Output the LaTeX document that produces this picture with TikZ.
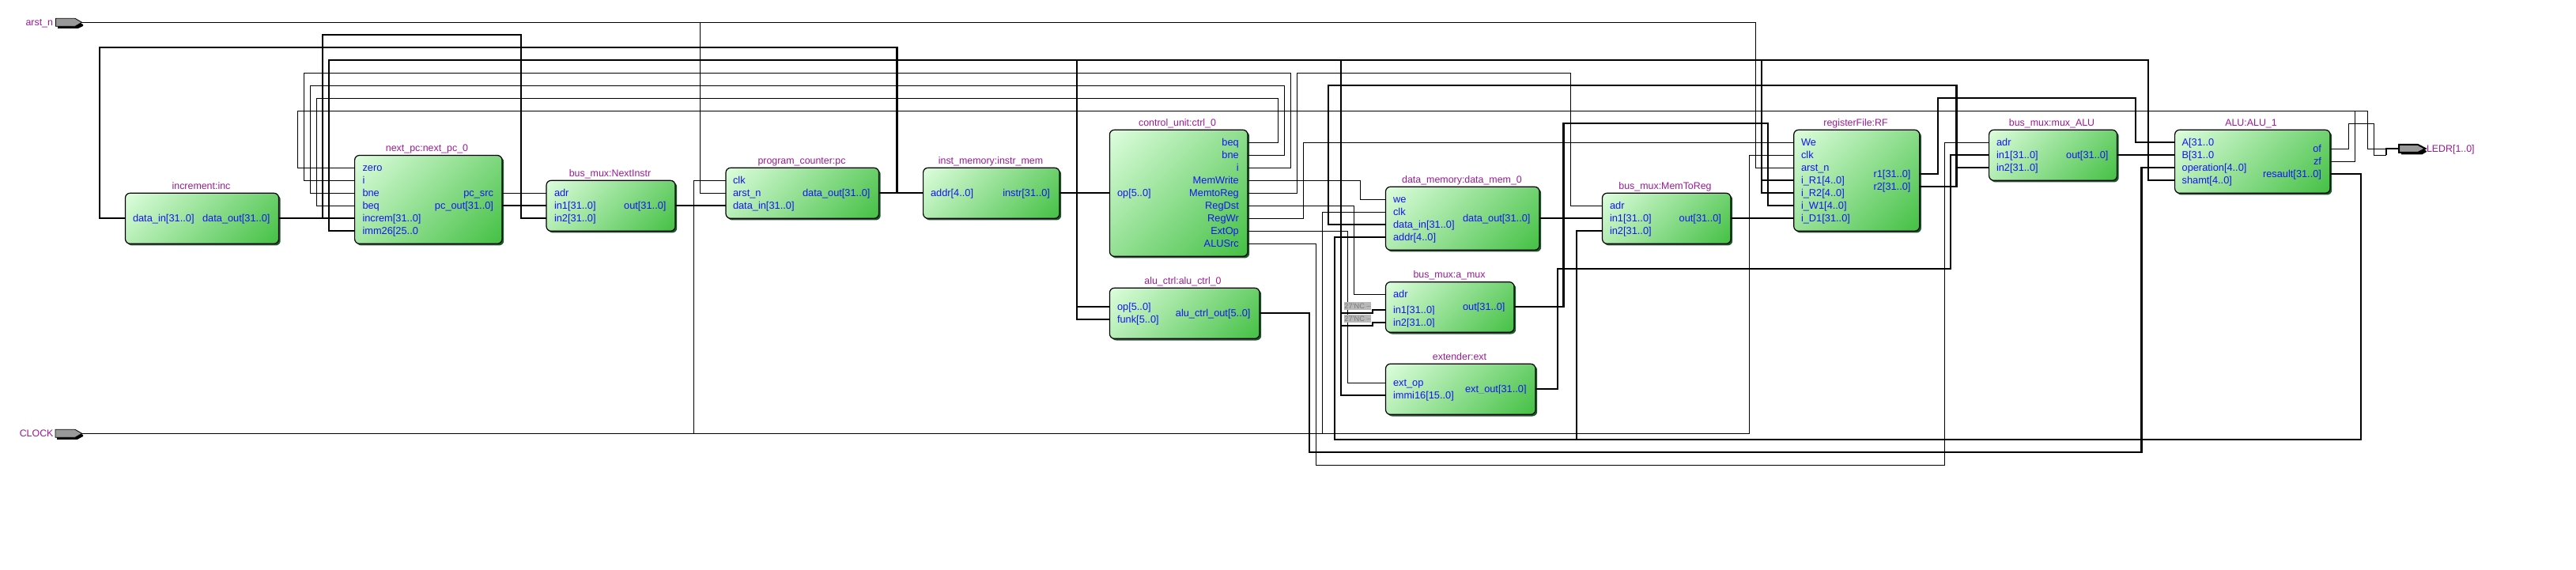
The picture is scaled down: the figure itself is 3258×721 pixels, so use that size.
\documentclass[tikz,border=0pt]{standalone}
\usepackage{fontspec}
\setmainfont{Liberation Sans}
\definecolor{lightg}{HTML}{DDFDDD}
\definecolor{darkg}{HTML}{44C044}
\definecolor{shadg}{HTML}{1C5A2C}
\definecolor{portc}{HTML}{1414F5}
\definecolor{titlec}{HTML}{9A1A94}
\definecolor{pinc}{HTML}{999999}
\definecolor{tagc}{HTML}{B8B8B8}
\definecolor{tagt}{HTML}{7A7A7A}
\pgfdeclareverticalshading{blockgrad}{100bp}{color(0bp)=(darkg); color(14.6bp)=(darkg); color(85.4bp)=(lightg); color(100bp)=(lightg)}
\tikzset{
  blockbox/.style={draw=black,line width=0.6pt,rounded corners=3pt,inner sep=0pt,outer sep=0pt,
    shade,shading=blockgrad,shading angle=45},
  portlabel/.style={inner sep=0pt,outer sep=0pt,text=portc,font=\fontsize{6.4}{7}\selectfont,text height=4.6pt,text depth=0pt},
  blocktitle/.style={inner sep=0pt,outer sep=0pt,text=titlec,font=\fontsize{6.2}{7}\selectfont,text height=4.6pt,text depth=0pt},
  sig/.style={draw=black,line width=0.55pt,line join=miter},
  bus/.style={draw=black,line width=1.05pt,line join=miter},
  nctag/.style={fill=tagc,text=tagt,inner sep=0pt,outer sep=0pt,minimum width=15pt,minimum height=5pt,font=\fontsize{4.6}{5}\selectfont},
}
\newcommand{\blk}[7]{% name x1 y1 x2 y2 title titlex
  \fill[shadg,rounded corners=3pt] ({#2+2.2},{#3+2.2}) rectangle ({#4+2.2},{#5+2.2});
  \node[blockbox,minimum width={(#4-#2)*0.5pt},minimum height={(#5-#3)*0.5pt}] (#1) at ({(#2+#4)/2},{(#3+#5)/2}) {};
  \node[blocktitle] (#1title) at (#7,{#3-9.6}) {#6};
}
\newcommand{\pl}[4]{% name x y text : left aligned, lower edge cut just under the baseline
  \begin{scope}\clip ({#2-2},{#3-9}) rectangle ({#2+120},{#3+5.9});
  \node[portlabel,anchor=west] (#1) at (#2,#3) {#4};\end{scope}}
\newcommand{\pr}[4]{% name x y text : right aligned
  \begin{scope}\clip ({#2-120},{#3-9}) rectangle ({#2+2},{#3+5.9});
  \node[portlabel,anchor=east] (#1) at (#2,#3) {#4};\end{scope}}
\begin{document}
\begin{tikzpicture}[x=0.5pt,y=-0.5pt]
\useasboundingbox (0,0) rectangle (3258,721);
\fill[white] (0,0) rectangle (3258,721);

% blocks and their ports
\blk{inc}{158.5}{244.3}{352.5}{308.3}{increment:inc}{254.5}
\pl{incin}{168}{276.3}{data\_in[31..0]}
\pr{incout}{341.5}{276.3}{data\_out[31..0]}

\blk{nx}{448.6}{196.5}{635}{308.3}{next\_pc:next\_pc\_0}{540}
\pl{nxzero}{458.5}{212.3}{zero}
\pl{nxi}{458.5}{228.3}{i}
\pl{nxbne}{458.5}{244.3}{bne}
\pl{nxbeq}{458.5}{260.3}{beq}
\pl{nxinc}{458.5}{276.3}{increm[31..0]}
\pl{nximm}{458.5}{292.3}{imm26[25..0}
\pr{nxsrc}{624}{244.3}{pc\_src}
\pr{nxout}{624}{260.3}{pc\_out[31..0]}

\blk{nim}{691}{228.3}{854}{292.3}{bus\_mux:NextInstr}{771.5}
\pl{nimadr}{701}{244.3}{adr}
\pl{nimone}{701}{260.3}{in1[31..0]}
\pl{nimtwo}{701}{276.3}{in2[31..0]}
\pr{nimout}{842.5}{260.3}{out[31..0]}

\blk{pc}{918}{212.3}{1111.5}{276.3}{program\_counter:pc}{1014}
\pl{pcclk}{927}{228.3}{clk}
\pl{pcarst}{927}{244.3}{arst\_n}
\pl{pcin}{927}{260.3}{data\_in[31..0]}
\pr{pcout}{1100.5}{244.3}{data\_out[31..0]}

\blk{im}{1167.6}{212.3}{1340}{276.3}{inst\_memory:instr\_mem}{1253}
\pl{imaddr}{1177}{244.3}{addr[4..0]}
\pr{imout}{1328}{244.3}{instr[31..0]}

\blk{ctl}{1403.4}{164.3}{1578}{324.3}{control\_unit:ctrl\_0}{1489}
\pl{ctlop}{1413}{244.3}{op[5..0]}
\pr{ctlbeq}{1566.8}{180.3}{beq}
\pr{ctlbne}{1566.8}{196.3}{bne}
\pr{ctli}{1566.8}{212.3}{i}
\pr{ctlmw}{1566.8}{228.3}{MemWrite}
\pr{ctlmr}{1566.8}{244.3}{MemtoReg}
\pr{ctlrd}{1566.8}{260.3}{RegDst}
\pr{ctlrw}{1566.8}{276.3}{RegWr}
\pr{ctlext}{1566.8}{292.3}{ExtOp}
\pr{ctlsrc}{1566.8}{308.3}{ALUSrc}

\blk{ac}{1403.4}{364.3}{1593}{428.3}{alu\_ctrl:alu\_ctrl\_0}{1496}
\pl{acop}{1413}{388.3}{op[5..0]}
\pl{acfunk}{1413}{404.3}{funk[5..0]}
\pr{acout}{1581.5}{396.3}{alu\_ctrl\_out[5..0]}

\blk{dm}{1752.5}{236.3}{1947}{316.3}{data\_memory:data\_mem\_0}{1849}
\pl{dmwe}{1762}{252.3}{we}
\pl{dmclk}{1762}{268.3}{clk}
\pl{dmin}{1762}{284.3}{data\_in[31..0]}
\pl{dmaddr}{1762}{300.3}{addr[4..0]}
\pr{dmout}{1935.5}{276.3}{data\_out[31..0]}

\blk{am}{1752.5}{356.7}{1915}{420.3}{bus\_mux:a\_mux}{1833}
\pl{amadr}{1762}{372.3}{adr}
\pl{amone}{1762}{391.9}{in1[31..0]}
\pl{amtwo}{1762}{408}{in2[31..0]}
\pr{amout}{1903.4}{387.9}{out[31..0]}

\blk{ex}{1752.5}{460.3}{1942}{524.3}{extender:ext}{1846}
\pl{exop}{1762}{484.3}{ext\_op}
\pl{eximm}{1762}{500.3}{immi16[15..0]}
\pr{exout}{1930.6}{492}{ext\_out[31..0]}

\blk{mr}{2026.5}{244.3}{2189}{308.3}{bus\_mux:MemToReg}{2106}
\pl{mradr}{2036}{260.3}{adr}
\pl{mrone}{2036}{276.3}{in1[31..0]}
\pl{mrtwo}{2036}{292.3}{in2[31..0]}
\pr{mrout}{2177}{276.3}{out[31..0]}

\blk{rf}{2268.7}{164.3}{2427.7}{292.3}{registerFile:RF}{2347}
\pl{rfwe}{2278}{180.3}{We}
\pl{rfclk}{2278}{196.3}{clk}
\pl{rfarst}{2278}{212.3}{arst\_n}
\pl{rfra}{2278}{228.3}{i\_R1[4..0]}
\pl{rfrb}{2278}{244.3}{i\_R2[4..0]}
\pl{rfw}{2278}{260.3}{i\_W1[4..0]}
\pl{rfd}{2278}{276.3}{i\_D1[31..0]}
\pr{rfone}{2416.5}{220.3}{r1[31..0]}
\pr{rftwo}{2416.5}{236.3}{r2[31..0]}

\blk{ma}{2515.6}{164.3}{2677.5}{228.3}{bus\_mux:mux\_ALU}{2595}
\pl{maadr}{2525}{180.3}{adr}
\pl{maone}{2525}{196.3}{in1[31..0]}
\pl{matwo}{2525}{212.3}{in2[31..0]}
\pr{maout}{2666.5}{196.3}{out[31..0]}

\blk{alu}{2750.6}{164.3}{2947}{244.3}{ALU:ALU\_1}{2847}
\begin{scope}\clip (2755,165) rectangle (2799.7,205);
\node[portlabel,anchor=west] (alua) at (2759.6,180.3) {A[31..0]};
\node[portlabel,anchor=west] (alub) at (2759.6,196.3) {B[31..0]};
\end{scope}
\pl{aluop}{2759.6}{212.3}{operation[4..0]}
\pl{alush}{2759.6}{228.3}{shamt[4..0]}
\pr{aluof}{2936}{188.3}{of}
\pr{aluzf}{2936}{204.3}{zf}
\pr{alures}{2936}{220.3}{resault[31..0]}

% top-level pins
\fill[black] (73,25.5) -- (96,25.5) -- (105,31) -- (105,33) -- (99,35.8) -- (73,35.8) -- cycle;
\filldraw[fill=pinc,draw=black,line width=0.4pt] (70.5,23.3) -- (95,23.3) -- (103.6,28.3) -- (95,33.3) -- (70.5,33.3) -- cycle;
\coordinate (arstpin) at (103.6,28.3);
\node[blocktitle,anchor=east] (arstname) at (67,28.3) {arst\_n};
\fill[black] (72,545.5) -- (96,545.5) -- (105,550) -- (105,552) -- (98,555.8) -- (72,555.8) -- cycle;
\filldraw[fill=pinc,draw=black,line width=0.4pt] (70,543.3) -- (95,543.3) -- (103.6,548.3) -- (95,553.3) -- (70,553.3) -- cycle;
\coordinate (clockpin) at (103.6,548.3);
\node[blocktitle,anchor=east] (clockname) at (67.5,548.3) {CLOCK};
\fill[black] (3037,186) -- (3060,186) -- (3069,191) -- (3069,192) -- (3063,195.5) -- (3037,195.5) -- cycle;
\filldraw[fill=pinc,draw=black,line width=1pt] (3034,183) -- (3058,183) -- (3067.5,188) -- (3058,193) -- (3034,193) -- cycle;
\coordinate (ledrpin) at (3034,187.7);
\node[blocktitle,anchor=west] (ledrname) at (3069,187.7) {LEDR[1..0]};

% thin connectors
\draw[sig] (arstpin) -- (2220.5,28.3) -- (2220.5,212.3) -- (rf.west |- rfarst);
\draw[sig] (885.4,28.3) -- (885.4,244.3) -- (pc.west |- pcarst);
\draw[sig] (clockpin) -- (2212.5,548.3) -- (2212.5,196.3) -- (rf.west |- rfclk);
\draw[sig] (877.5,548.3) -- (877.5,228.3) -- (pc.west |- pcclk);
\draw[sig] (1672.6,548.3) -- (1672.6,268.3) -- (dm.west |- dmclk);
\draw[sig] (nx.east |- nxsrc) -- (nim.west |- nimadr);
\draw[sig] (ctl.east |- ctlbeq) -- (1616.3,180.3) -- (1616.3,124.3) -- (400.4,124.3) -- (400.4,260.3) -- (nx.west |- nxbeq);
\draw[sig] (ctl.east |- ctlbne) -- (1624.4,196.3) -- (1624.4,108.3) -- (392.4,108.3) -- (392.4,244.3) -- (nx.west |- nxbne);
\draw[sig] (ctl.east |- ctli) -- (1632.4,212.3) -- (1632.4,92.3) -- (384.4,92.3) -- (384.4,228.3) -- (nx.west |- nxi);
\draw[sig] (ctl.east |- ctlmw) -- (1720.4,228.3) -- (1720.4,252.3) -- (dm.west |- dmwe);
\draw[sig] (ctl.east |- ctlmr) -- (1640.4,244.3) -- (1640.4,92.3) -- (1986.4,92.3) -- (1986.4,260.3) -- (mr.west |- mradr);
\draw[sig] (ctl.east |- ctlrd) -- (1712.3,260.3) -- (1712.3,372.3) -- (am.west |- amadr);
\draw[sig] (ctl.east |- ctlrw) -- (1648.5,276.3) -- (1648.5,180.3) -- (rf.west |- rfwe);
\draw[sig] (ctl.east |- ctlext) -- (1704.3,292.3) -- (1704.3,484.3) -- (ex.west |- exop);
\draw[sig] (ctl.east |- ctlsrc) -- (1664.5,308.3) -- (1664.5,588.3) -- (2459.5,588.3) -- (2459.5,180.3) -- (ma.west |- maadr);
\draw[sig] (alu.east |- aluzf) -- (2978.8,204.3) -- (2978.8,140.3) -- (376.3,140.3) -- (376.3,212.3) -- (nx.west |- nxzero);
\draw[sig] (2978.8,140.3) -- (2994.8,140.3) -- (2994.8,188.3) -- (3018,188.3);
\draw[sig] (alu.east |- aluof) -- (2970.7,188.3) -- (2970.7,156.3) -- (3002.9,156.3) -- (3002.9,196.3) -- (3018,196.3);

% thick connectors
\draw[bus] (pc.east |- pcout) -- (im.west |- imaddr);
\draw[bus] (1134.5,244.3) -- (1134.5,60) -- (126,60) -- (126,276.3) -- (inc.west |- incin);
\draw[bus] (inc.east |- incout) -- (nx.west |- nxinc);
\draw[bus] (408,276.3) -- (408,43.7) -- (659,43.7) -- (659,276.3) -- (nim.west |- nimtwo);
\draw[bus] (nx.east |- nxout) -- (nim.west |- nimone);
\draw[bus] (nim.east |- nimout) -- (pc.west |- pcin);
\draw[bus] (im.east |- imout) -- (ctl.west |- ctlop);
\draw[bus] (1362.3,244.3) -- (1362.3,76) -- (2717,76) -- (2717,228.3) -- (alu.west |- alush);
\draw[bus] (1362.3,76) -- (416,76) -- (416,292.3) -- (nx.west |- nximm);
\draw[bus] (1362.3,244.3) -- (1362.3,404.3) -- (ac.west |- acfunk);
\draw[bus] (1362.3,388.3) -- (ac.west |- acop);
\draw[bus] (1696.3,76) -- (1696.3,500.3) -- (ex.west |- eximm);
\draw[bus] (1696.3,396) -- (1736,396) -- (1736,391.9) -- (am.west |- amone);
\draw[bus] (1696.3,412) -- (1736,412) -- (1736,408) -- (am.west |- amtwo);
\draw[bus] (2227.7,76) -- (2227.7,244.3) -- (rf.west |- rfrb);
\draw[bus] (2227.7,228.3) -- (rf.west |- rfra);
\draw[bus] (am.east |- amout) -- (1977.5,387.9) -- (1977.5,156) -- (2235.7,156) -- (2235.7,260.3) -- (rf.west |- rfw);
\draw[bus] (ex.east |- exout) -- (1970,492) -- (1970,340) -- (2467,340) -- (2467,196.3) -- (ma.west |- maone);
\draw[bus] (dm.east |- dmout) -- (mr.west |- mrone);
\draw[bus] (mr.east |- mrout) -- (rf.west |- rfd);
\draw[bus] (alu.east |- alures) -- (2986.3,220.3) -- (2986.3,556) -- (1687.8,556) -- (1687.8,300.3) -- (dm.west |- dmaddr);
\draw[bus] (1994,556) -- (1994,292.3) -- (mr.west |- mrtwo);
\draw[bus] (ac.east |- acout) -- (1656,396.3) -- (1656,572) -- (2708.5,572) -- (2708.5,212.3) -- (alu.west |- aluop);
\draw[bus] (rf.east |- rftwo) -- (2474.5,236.3) -- (2474.5,108) -- (1680,108) -- (1680,284.3) -- (dm.west |- dmin);
\draw[bus] (2474.5,212.3) -- (ma.west |- matwo);
\draw[bus] (rf.east |- rfone) -- (2451,220.3) -- (2451,124) -- (2701,124) -- (2701,180.3) -- (alu.west |- alua);
\draw[bus] (ma.east |- maout) -- (alu.west |- alub);
\draw[bus] (3018,196.3) -- (3018,187.7) -- (ledrpin);

% unconnected-input tags
\node[nctag] (nca) at (1717,387.3) {27'NC --};
\node[nctag] (ncb) at (1717,403.2) {27'NC --};
\end{tikzpicture}
\end{document}
